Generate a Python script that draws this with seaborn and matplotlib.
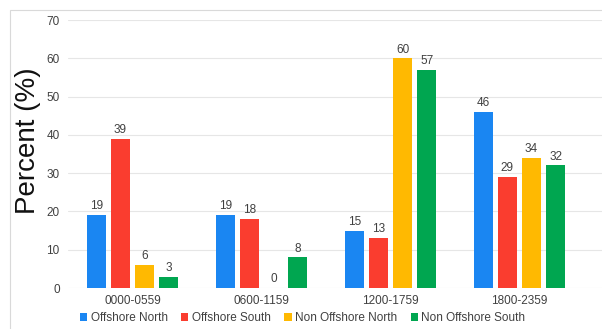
import matplotlib
matplotlib.use("Agg")
import matplotlib.pyplot as plt
from matplotlib.patches import Rectangle, Patch
import pandas as pd
import seaborn as sns

periods = ["0000-0559", "0600-1159", "1200-1759", "1800-2359"]
groups = ["Offshore North", "Offshore South", "Non Offshore North", "Non Offshore South"]
offshore_north = [19, 19, 15, 46]
offshore_south = [39, 18, 13, 29]
non_offshore_north = [6, 0, 60, 34]
non_offshore_south = [3, 8, 57, 32]
colors = ["#1A86F2", "#FA3D2F", "#FFB901", "#00A650"]

series = [offshore_north, offshore_south, non_offshore_north, non_offshore_south]
df = pd.DataFrame(
    [(p, g, v) for g, vals in zip(groups, series) for p, v in zip(periods, vals)],
    columns=["period", "group", "percent"],
)

sns.set_theme(style="white")
plt.rcParams["font.family"] = ["Liberation Sans", "DejaVu Sans"]

fig = plt.figure(figsize=(6.02, 3.29), dpi=100)
ax = fig.add_axes([0.113, 0.1246, 0.887, 0.8146])

sns.barplot(
    data=df, x="period", y="percent", hue="group",
    order=periods, hue_order=groups, palette=colors,
    width=0.75, gap=0.2, saturation=1, linewidth=0,
    legend=False, ax=ax,
)

text_color = "#404040"
for cont in ax.containers:
    ax.bar_label(cont, fmt="{:.0f}", padding=2, fontsize=8.5, color=text_color)

ax.set_ylim(0, 70)
ax.set_yticks(range(0, 71, 10))
ax.set_xlim(-0.5, 3.64)
ax.yaxis.grid(True, color="#E6E6E6", linewidth=0.8)
ax.set_axisbelow(True)
for s in ax.spines.values():
    s.set_visible(False)
ax.tick_params(axis="both", length=0, labelsize=8.5, colors=text_color, pad=6)
ax.tick_params(axis="x", pad=5)
ax.set_xlabel("")
ax.set_ylabel("Percent (%)", fontsize=20, color="#111111")
ax.yaxis.set_label_coords(-0.05, 0.55)

handles = [Patch(facecolor=c, edgecolor="none") for c in colors]
fig.legend(
    handles, groups, loc="center", bbox_to_anchor=(0.503, 0.033), ncol=4,
    frameon=False, fontsize=8.5, handlelength=0.6, handleheight=0.6,
    handletextpad=0.3, columnspacing=1.15, labelcolor=text_color,
)

fig.patches.append(Rectangle(
    (10 / 602, -0.1), 1.2, 1 - 10 / 329 + 0.1,
    transform=fig.transFigure, fill=False, edgecolor="#D9D9D9", linewidth=0.8,
))

fig.savefig("out.png", dpi=100)
